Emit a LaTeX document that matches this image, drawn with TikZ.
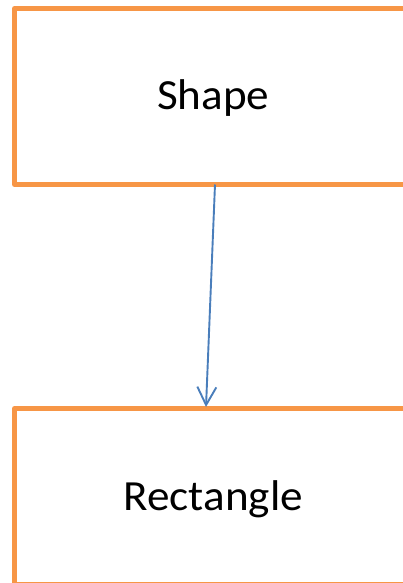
\documentclass[tikz,border=0pt]{standalone}
\usepackage{fontspec}
\setmainfont{Carlito}
\newfontfamily\labelfont[FakeStretch=1.05]{Carlito}
\usetikzlibrary{arrows.meta}
\definecolor{boxorange}{HTML}{F79646}
\definecolor{linkblue}{HTML}{4A7EBB}
\begin{document}
\begin{tikzpicture}[x=1pt,y=-1pt,
  classbox/.style={draw=boxorange, line width=5pt, line join=round,
    minimum width=397.5pt, minimum height=176pt, inner sep=0pt,
    text height=27pt, text depth=0pt,
    font=\labelfont\fontsize{43}{51}\selectfont},
  link/.style={draw=linkblue, line width=1.9pt,
    -{Straight Barb[length=18pt,width=19pt,line width=1.9pt]}}]
  \useasboundingbox (0,0) rectangle (403,583);
  \node[classbox] (shape) at (213.25,96.5) {Shape};
  \node[classbox] (rect) at (213.25,496.5) {Rectangle};
  \coordinate (from) at (215,184.5);
  \coordinate (to) at (206,407);
  \draw[link] (from) -- (to);
\end{tikzpicture}
\end{document}
